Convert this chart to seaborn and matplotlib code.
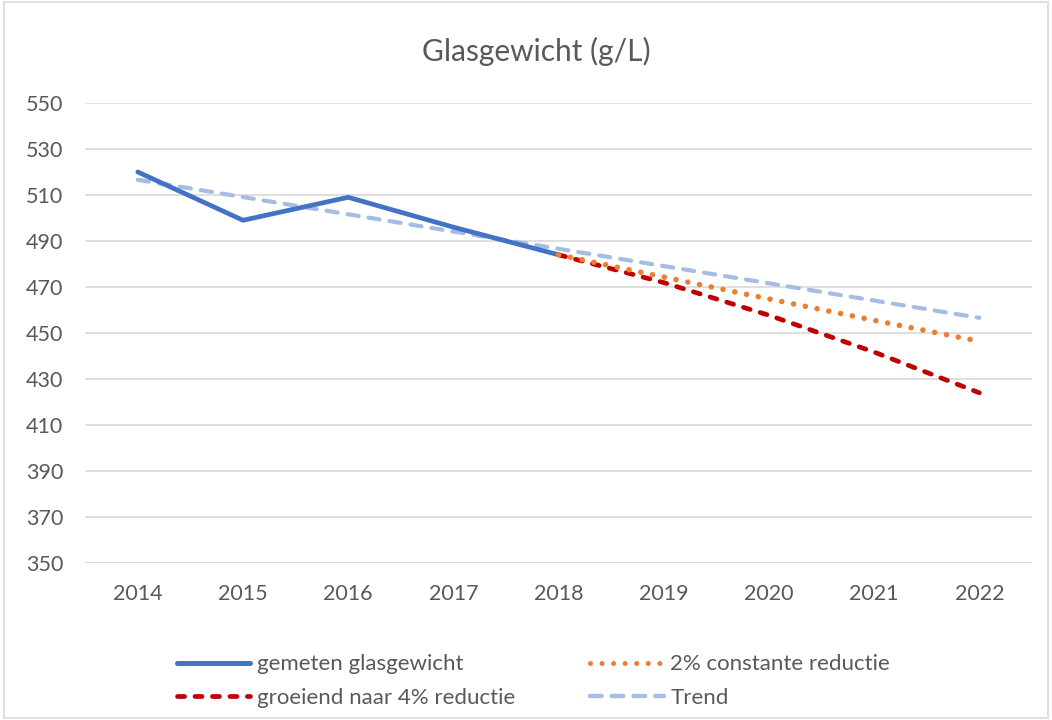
import matplotlib
matplotlib.use("Agg")
import matplotlib.pyplot as plt
import seaborn as sns
from matplotlib.lines import Line2D
from matplotlib.patches import Rectangle

# data
years = [2014, 2015, 2016, 2017, 2018, 2019, 2020, 2021, 2022]
gemeten = [520, 499, 509, 496, 484]
constant_2pct = [484, 474.3, 464.8, 455.5, 446.4]
groeiend_4pct = [484, 471.9, 457.7, 441.7, 424.0]
trend = [516.6, 509.1, 501.6, 494.1, 486.6, 479.1, 471.6, 464.1, 456.6]
yticks = [350, 370, 390, 410, 430, 450, 470, 490, 510, 530, 550]

sns.set_theme(style="white")
plt.rcParams["font.family"] = ["Lato", "DejaVu Sans"]
grey = "#595959"

fig = plt.figure(figsize=(10.52, 7.2), dpi=100)
ax = fig.add_axes([0.081, 0.218, 0.9, 0.639])

c_blue = "#4472C4"
c_orange = "#ED7D31"
c_red = "#C00000"
c_trend = "#A5BCE4"

# trendlijn
sns.lineplot(x=years, y=trend, ax=ax, color=c_trend, linewidth=3.0, zorder=2)
ax.lines[-1].set_dashes((2.7, 2.4))
ax.lines[-1].set_dash_capstyle("round")

# gemeten
sns.lineplot(x=years[:5], y=gemeten, ax=ax, color=c_blue, linewidth=3.4, zorder=3)
ax.lines[-1].set_solid_capstyle("round")
ax.lines[-1].set_solid_joinstyle("round")

# scenario's
sns.lineplot(x=years[4:], y=groeiend_4pct, ax=ax, color=c_red, linewidth=3.4, zorder=4)
ax.lines[-1].set_dashes((1.5, 2.2))
ax.lines[-1].set_dash_capstyle("round")

sns.lineplot(x=years[4:], y=constant_2pct, ax=ax, color=c_orange, linewidth=4.0, zorder=5)
ax.lines[-1].set_dashes((0.01, 2.15))
ax.lines[-1].set_dash_capstyle("round")

ax.set_xlim(2013.5, 2022.5)
ax.set_ylim(350, 550)
ax.set_xticks(years)
ax.set_xticklabels([str(y) for y in years])
ax.set_yticks(yticks)
ax.tick_params(axis="both", labelsize=15.5, colors=grey, length=0)
ax.tick_params(axis="x", pad=15)
ax.tick_params(axis="y", pad=16)
ax.grid(axis="y", color="#D9D9D9", linewidth=1.2)
ax.grid(axis="x", visible=False)
for s in ax.spines.values():
    s.set_visible(False)
ax.set_xlabel("")
ax.set_ylabel("")

fig.text(0.51, 0.928, "Glasgewicht (g/L)", ha="center", va="center",
         fontsize=21.5, color=grey)

# legenda: matplotlib vult per kolom, dus volgorde aanpassen
handles = [
    Line2D([], [], color=c_blue, linewidth=3.6, solid_capstyle="round"),
    Line2D([], [], color=c_red, linewidth=3.4, dashes=(1.5, 2.2),
           dash_capstyle="round"),
    Line2D([], [], color=c_orange, linewidth=3.6, dashes=(0.01, 2.3),
           dash_capstyle="round"),
    Line2D([], [], color=c_trend, linewidth=3.2, dashes=(2.6, 2.3),
           dash_capstyle="round"),
]
labels = ["gemeten glasgewicht", "groeiend naar 4% reductie",
          "2% constante reductie", "Trend"]
fig.legend(handles, labels, loc="center", bbox_to_anchor=(0.507, 0.054),
           ncol=2, frameon=False, fontsize=16, handlelength=3.3,
           handletextpad=0.3, columnspacing=3.4, labelspacing=0.6,
           labelcolor=grey)

# rand om de grafiek
fig.patches.append(Rectangle((0.004, 0.003), 0.992, 0.994, transform=fig.transFigure,
                             fill=False, edgecolor="#D9D9D9", linewidth=1.2))

fig.savefig("out.png", dpi=100)
